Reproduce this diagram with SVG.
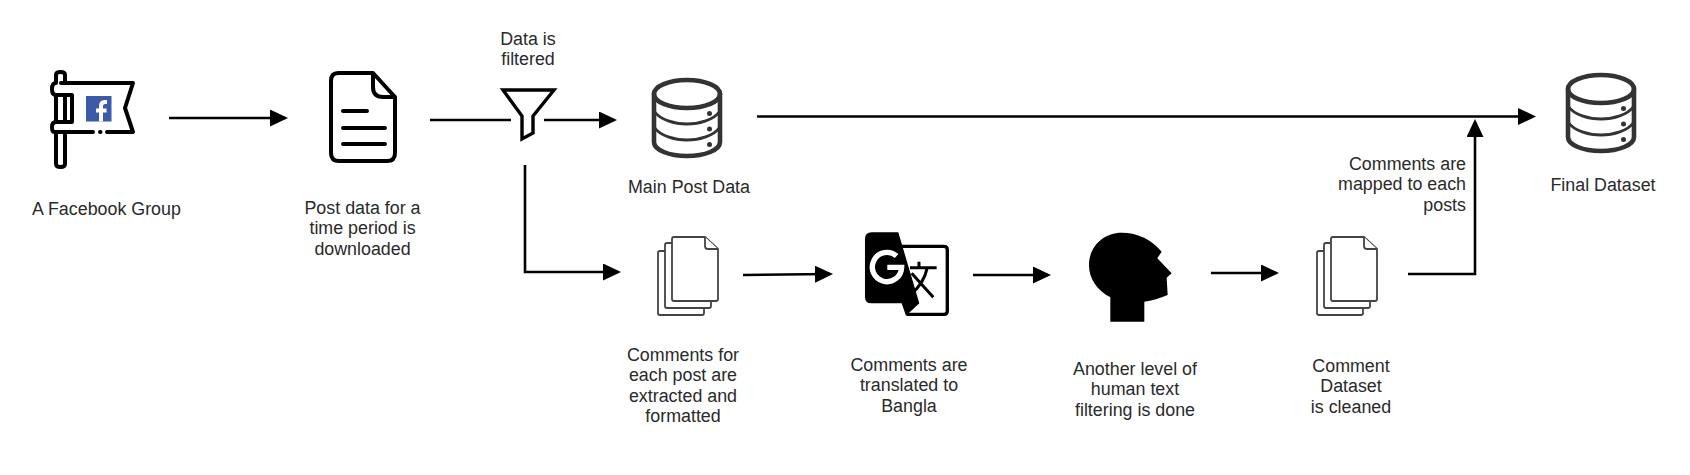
<svg xmlns="http://www.w3.org/2000/svg" width="1690" height="475" viewBox="0 0 1690 475">
<style>
text{font-family:"Liberation Sans",Arial,sans-serif;font-size:17.85px;fill:#2a2a2a;text-anchor:middle}
.c{fill:none;stroke:#000;stroke-width:2.6}
.ico{fill:none;stroke:#000;stroke-width:4;stroke-linecap:round;stroke-linejoin:round}
.db{fill:none;stroke:#333;stroke-linecap:round}
.sheet{fill:#fff;stroke:#444;stroke-width:1.8;stroke-linejoin:round}
</style>
<defs>
<marker id="arrow" markerUnits="userSpaceOnUse" markerWidth="18" markerHeight="17" refX="15" refY="8.5" orient="auto"><path d="M0,0L18,8.5L0,17Z" fill="#000"/></marker>
<g id="dbicon">
<ellipse class="db" stroke-width="4.6" cx="687" cy="94" rx="33" ry="14"/>
<path class="db" stroke-width="4.6" d="M654,94V142C654,150 669,156 687,156C705,156 720,150 720,142V94"/>
<path class="db" stroke-width="2.8" d="M654,111C660,120 675,124 687,124C699,124 714,120 720,111M654,127C660,136 675,140 687,140C699,140 714,136 720,127"/>
<circle cx="709.500" cy="113.500" r="2.500" fill="#333"/><circle cx="709.500" cy="129" r="2.500" fill="#333"/><circle cx="709.500" cy="144.500" r="2.500" fill="#333"/>
</g>
<g id="stack">
<path class="sheet" d="M658,253Q658,251 660,251H702Q704,251 704,253V313Q704,315 702,315H660Q658,315 658,313Z"/>
<path class="sheet" d="M665,245Q665,243 667,243H709Q711,243 711,245V306Q711,308 709,308H667Q665,308 665,306Z"/>
<path class="sheet" d="M672,239Q672,237 674,237H705L718,249V299Q718,301 716,301H674Q672,301 672,299Z"/>
<path class="sheet" d="M705,237V246Q705,249 708,249H718"/>
</g>
</defs>
<rect width="1690" height="475" fill="#fff"/>
<g id="connectors">
<path class="c" marker-end="url(#arrow)" d="M169,118H285"/>
<path class="c" d="M430,120H511"/>
<path class="c" marker-end="url(#arrow)" d="M544,120H614"/>
<path class="c" marker-end="url(#arrow)" d="M525,165V272H618"/>
<path class="c" marker-end="url(#arrow)" d="M743,275L830,274"/>
<path class="c" marker-end="url(#arrow)" d="M973,275H1048"/>
<path class="c" marker-end="url(#arrow)" d="M1211,273H1276"/>
<path class="c" marker-end="url(#arrow)" d="M1408,274H1475V122"/>
<path class="c" marker-end="url(#arrow)" d="M757,116.500H1533"/>
</g>
<g id="node-facebook">
<path class="ico" d="M61,83H133L125,108L133,132H107M100,132H100.500M93,132H54Q52,132 52,127Q52,122 56,122H72V95H56Q52,95 52,89Q52,83 56,83V75Q56,72 60.500,72Q65,72 65,75V83M56,95V122M65,95V122M56,132V164Q56,167 60.500,167Q65,167 65,164V132"/>
<rect x="86" y="96" width="25.500" height="25.500" fill="#3b5ba8"/>
<path d="M101,121.500V106Q101,102 105,102H107M96,110.500H106.500" fill="none" stroke="#fff" stroke-width="4"/>
<text x="106.500" y="215">A Facebook Group</text>
</g>
<g id="node-post">
<path class="ico" d="M338,73H373L395,97V153Q395,161 387,161H339Q331,161 331,153V81Q331,73 338,73ZM373,73V87Q373,97 383,97H395M343,111H367M343,128H385M343,144H385"/>
<text x="362.500" y="214">Post data for a</text><text x="362.500" y="234">time period is</text><text x="362.500" y="255">downloaded</text>
</g>
<g id="node-filter">
<path d="M503,90H554L533,116V133L522,139V116Z" fill="#fff" stroke="#000" stroke-width="3.400"/>
<text x="528" y="45">Data is</text><text x="528" y="65">filtered</text>
</g>
<g id="node-main-post">
<use href="#dbicon"/>
<text x="689" y="193">Main Post Data</text>
</g>
<g id="node-comments">
<use href="#stack"/>
<text x="683" y="361">Comments for</text><text x="683" y="381">each post are</text><text x="683" y="402">extracted and</text><text x="683" y="422">formatted</text>
</g>
<g id="node-translate">
<g transform="translate(600 210) scale(0.3333)">
<path d="M900,109H1032Q1042,109 1042,119V303Q1042,313 1032,313H920" fill="#fff" stroke="#000" stroke-width="10"/>
<path d="M895,67H815Q795,67 795,87V260Q795,280 815,280H905L918,317L958,280Z" fill="#000"/>
<path d="M890,138A44,44 0 1 0 905,172H862" fill="none" stroke="#fff" stroke-width="16"/>
<path d="M930,173H1010M957,155V173M982,173C975,205 955,235 933,252M935,190L1000,262" fill="none" stroke="#000" stroke-width="9"/>
</g>
<text x="909" y="371">Comments are</text><text x="909" y="391">translated to</text><text x="909" y="412">Bangla</text>
</g>
<g id="node-human">
<g transform="translate(1050 210) scale(0.3333)">
<path d="M181,335V262C140,240 117,205 117,165C117,110 160,68 215,68C265,68 305,90 335,125L322,145L365,190L350,203L353,255C330,265 305,272 283,275V335Z" fill="#000"/>
</g>
<text x="1135" y="375">Another level of</text><text x="1135" y="395">human text</text><text x="1135" y="416">filtering is done</text>
</g>
<g id="node-clean">
<use href="#stack" x="659"/>
<text x="1351" y="372">Comment</text><text x="1351" y="392">Dataset</text><text x="1351" y="413">is cleaned</text>
</g>
<g id="label-mapped">
<text x="1466" y="170" style="text-anchor:end">Comments are</text><text x="1466" y="190" style="text-anchor:end">mapped to each</text><text x="1466" y="211" style="text-anchor:end">posts</text>
</g>
<g id="node-final">
<use href="#dbicon" x="914" y="-5"/>
<text x="1603" y="191">Final Dataset</text>
</g>
</svg>
